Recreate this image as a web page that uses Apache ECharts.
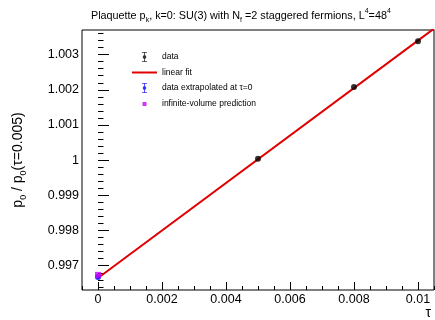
<!DOCTYPE html>
<html>
<head>
<meta charset="utf-8">
<script src="https://cdn.jsdelivr.net/npm/echarts@6/dist/echarts.min.js"></script>
<style>
  html, body { margin: 0; padding: 0; background: #fff; }
  #plaquette-chart { width: 435px; height: 320px; }
</style>
</head>
<body>
<div id="plaquette-chart"></div>
<script>
// measured points (tau, ratio)
const dataTau = [0.005, 0.008, 0.01];
const dataRatio = [1.00004, 1.00208, 1.00338];
// extrapolation to tau = 0
const extrapTau = [0];
const extrapRatio = [0.99668];
// infinite-volume prediction
const predTau = [0];
const predRatio = [0.99674];
// linear fit end points
const fitTau = [0, 0.0105];
const fitRatio = [0.99665, 1.00374];

const xTicks = [0, 0.002, 0.004, 0.006, 0.008, 0.01];
const yTicks = [0.997, 0.998, 0.999, 1, 1.001, 1.002, 1.003];

const xMin = -0.0005, xMax = 0.0105;
const yMin = 0.99631, yMax = 1.0037;

const FONT = "'Liberation Sans', Arial, sans-serif";

const xMinor = [];
for (let i = -1; i <= 21; i++) xMinor.push(+(i * 0.0005).toFixed(5));
const yMinor = [];
for (let i = 0; i <= 40; i++) yMinor.push(+(0.9962 + i * 0.0002).toFixed(5));

const fmt = v => String(parseFloat((+v).toFixed(4)));
const zip = (a, b) => a.map((v, i) => [v, b[i]]);

// legend glyphs: error bar with dot, thin line, small square
const errIcon = 'path://M0,0h6v1h-6z M2.5,1h1v10h-1z M0,11h6v1h-6z M2,4h2l1,1v2l-1,1h-2l-1,-1v-2z';
const lineIcon = 'path://M0,0h25v2h-25z';
const sqIcon = 'path://M0,0h0.01v0.01h-0.01z M3,3h4v4h-4z M9.99,9.99h0.01v0.01h-0.01z';

const chart = echarts.init(document.getElementById('plaquette-chart'));

const option = {
  backgroundColor: '#fff',
  animation: false,
  title: {
    text: 'Plaquette p{sub|k}, k=0: SU(3) with N{sub|f} =2 staggered fermions, L{sup|4}=48{sup|4}',
    left: 86,
    top: 3,
    textStyle: {
      fontFamily: FONT, fontSize: 10.8, fontWeight: 'normal', color: '#000', lineHeight: 16,
      rich: {
        sub: { fontFamily: FONT, fontSize: 7, color: '#000', lineHeight: 16, verticalAlign: 'bottom', padding: [6, 0, 0, 0] },
        sup: { fontFamily: FONT, fontSize: 7, color: '#000', lineHeight: 16, verticalAlign: 'top', padding: [0, 0, 6, 0] }
      }
    }
  },
  legend: {
    orient: 'vertical',
    left: 127,
    top: 47,
    itemWidth: 25,
    itemHeight: 10,
    itemGap: 6,
    itemStyle: { borderWidth: 0 },
    textStyle: { fontFamily: FONT, fontSize: 8.5, color: '#000' },
    data: [
      { name: 'data', icon: errIcon },
      { name: 'linear fit', icon: lineIcon },
      { name: 'data extrapolated at τ=0', icon: errIcon },
      { name: 'infinite-volume prediction', icon: sqIcon }
    ]
  },
  grid: {
    left: 77, right: 1, top: 30, bottom: 28.5,
    show: true, borderColor: '#000', borderWidth: 1, backgroundColor: '#fff'
  },
  xAxis: [
    {
      type: 'value', min: xMin, max: xMax,
      axisLine: { show: false }, splitLine: { show: false },
      axisTick: { inside: true, length: 8, customValues: xTicks, lineStyle: { color: '#000' } },
      axisLabel: { customValues: xTicks, formatter: fmt, color: '#000', fontFamily: FONT, fontSize: 12.5, margin: 3 },
      name: 'τ', nameLocation: 'end', nameGap: -3,
      nameTextStyle: { fontFamily: FONT, fontSize: 14, color: '#000', align: 'right', verticalAlign: 'top', padding: [16, 0, 0, 0] }
    },
    {
      type: 'value', min: xMin, max: xMax, position: 'bottom',
      axisLine: { show: false }, splitLine: { show: false },
      axisTick: { inside: true, length: 4, customValues: xMinor, lineStyle: { color: '#000' } },
      axisLabel: { show: false }
    }
  ],
  yAxis: [
    {
      type: 'value', min: yMin, max: yMax,
      axisLine: { show: false }, splitLine: { show: false },
      axisTick: { inside: true, length: 11, customValues: yTicks, lineStyle: { color: '#000' } },
      axisLabel: { customValues: yTicks, formatter: fmt, color: '#000', fontFamily: FONT, fontSize: 12.5, margin: 3 },
      name: 'p{sub|0} / p{sub|0}(τ=0.005)', nameLocation: 'middle', nameGap: 54, nameRotate: 90,
      nameTextStyle: {
        fontFamily: FONT, fontSize: 14, color: '#000', lineHeight: 20,
        rich: { sub: { fontFamily: FONT, fontSize: 9, color: '#000', lineHeight: 20, verticalAlign: 'bottom', padding: [7, 0, 0, 0] } }
      }
    },
    {
      type: 'value', min: yMin, max: yMax, position: 'left',
      axisLine: { show: false }, splitLine: { show: false },
      axisTick: { inside: true, length: 5.5, customValues: yMinor, lineStyle: { color: '#000' } },
      axisLabel: { show: false }
    }
  ],
  series: [
    {
      name: 'linear fit', type: 'line', z: 2,
      data: zip(fitTau, fitRatio),
      symbol: 'none', showSymbol: false, clip: true,
      lineStyle: { color: '#e00000', width: 2 },
      itemStyle: { color: '#e00000' }
    },
    {
      name: 'data extrapolated at τ=0', type: 'scatter', z: 3,
      data: zip(extrapTau, extrapRatio),
      symbol: 'circle', symbolSize: 6,
      itemStyle: { color: '#0000ff' }
    },
    {
      name: 'infinite-volume prediction', type: 'scatter', z: 4,
      data: zip(predTau, predRatio),
      symbol: 'rect', symbolSize: 6,
      itemStyle: { color: '#cc00ff' }
    },
    {
      name: 'data', type: 'scatter', z: 5,
      data: zip(dataTau, dataRatio),
      symbol: 'circle', symbolSize: 6,
      itemStyle: { color: '#000' }
    }
  ]
};

chart.setOption(option);
</script>
</body>
</html>
